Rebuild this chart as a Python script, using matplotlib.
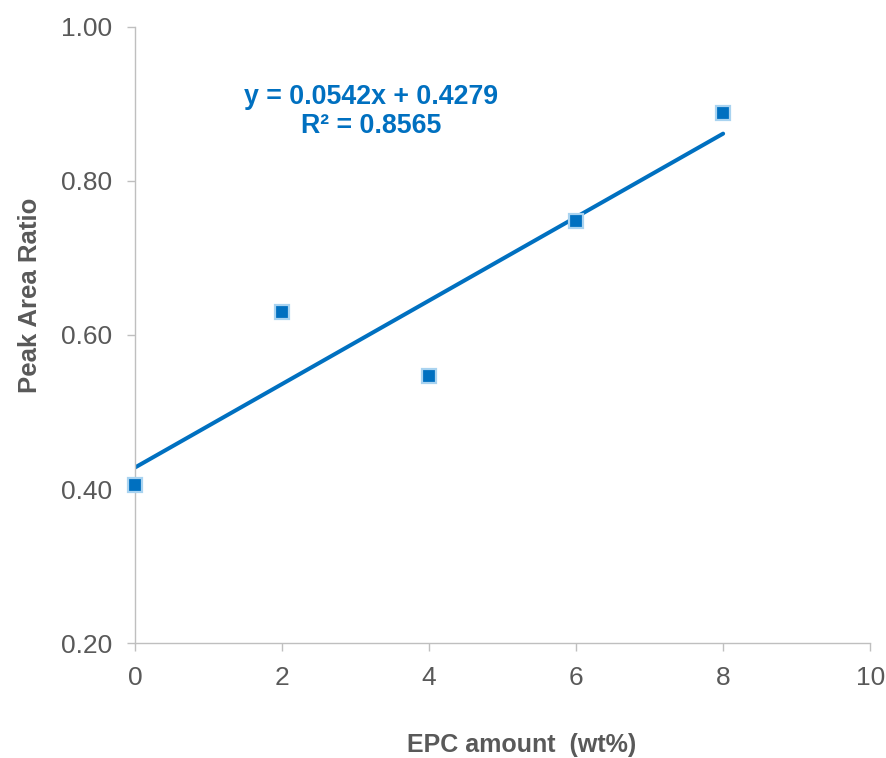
import matplotlib
matplotlib.use("Agg")
import matplotlib.pyplot as plt
import numpy as np

x_vals = [0, 2, 4, 6, 8]
y_vals = [0.405, 0.630, 0.547, 0.748, 0.888]
slope = 0.0542
intercept = 0.4279
eq_text = "y = 0.0542x + 0.4279\nR² = 0.8565"
x_ticks = [0, 2, 4, 6, 8, 10]
y_ticks = [0.20, 0.40, 0.60, 0.80, 1.00]

plt.rcParams['font.family'] = ['Liberation Sans', 'DejaVu Sans']
gray = '#595959'
blue = '#0070C0'

fig = plt.figure(figsize=(8.87, 7.58), dpi=100)
ax = fig.add_axes([0.1522, 0.1517, 0.981 - 0.1522, 0.9644 - 0.1517])

ax.set_xlim(0, 10)
ax.set_ylim(0.2, 1.0)
xl = np.array([0, 8])
ax.plot(xl, slope * xl + intercept, color=blue, lw=2.9, solid_capstyle='round', zorder=2)
ax.plot(x_vals, y_vals, linestyle='none', marker='s', markersize=10.5,
        markerfacecolor=blue, markeredgecolor='#A9D3F0', markeredgewidth=1.6,
        clip_on=False, zorder=3)

ax.set_xticks(x_ticks)
ax.set_xticklabels([str(v) for v in x_ticks])
ax.set_yticks(y_ticks)
ax.set_yticklabels([f"{v:.2f}" for v in y_ticks])
for s in ['top', 'right']:
    ax.spines[s].set_visible(False)
for s in ['left', 'bottom']:
    ax.spines[s].set_color('#BFBFBF')
    ax.spines[s].set_linewidth(1.0)
ax.tick_params(direction='out', length=6, width=1.0, color='#BFBFBF',
               labelsize=19, labelcolor=gray, pad=10.5)

ax.set_xlabel("EPC amount  (wt%)", fontsize=18, fontweight='bold', color=gray, va='center')
ax.xaxis.set_label_coords(0.5265, -0.1656)
ax.set_ylabel("Peak Area Ratio", fontsize=18.5, fontweight='bold', color=gray, va='center')
ax.yaxis.set_label_coords(-0.1429, 0.565)

ax.text(3.21, 0.890, eq_text, color=blue, fontsize=19.3, fontweight='bold',
        ha='center', va='center', linespacing=1.15)

fig.savefig("out.png", dpi=100)
